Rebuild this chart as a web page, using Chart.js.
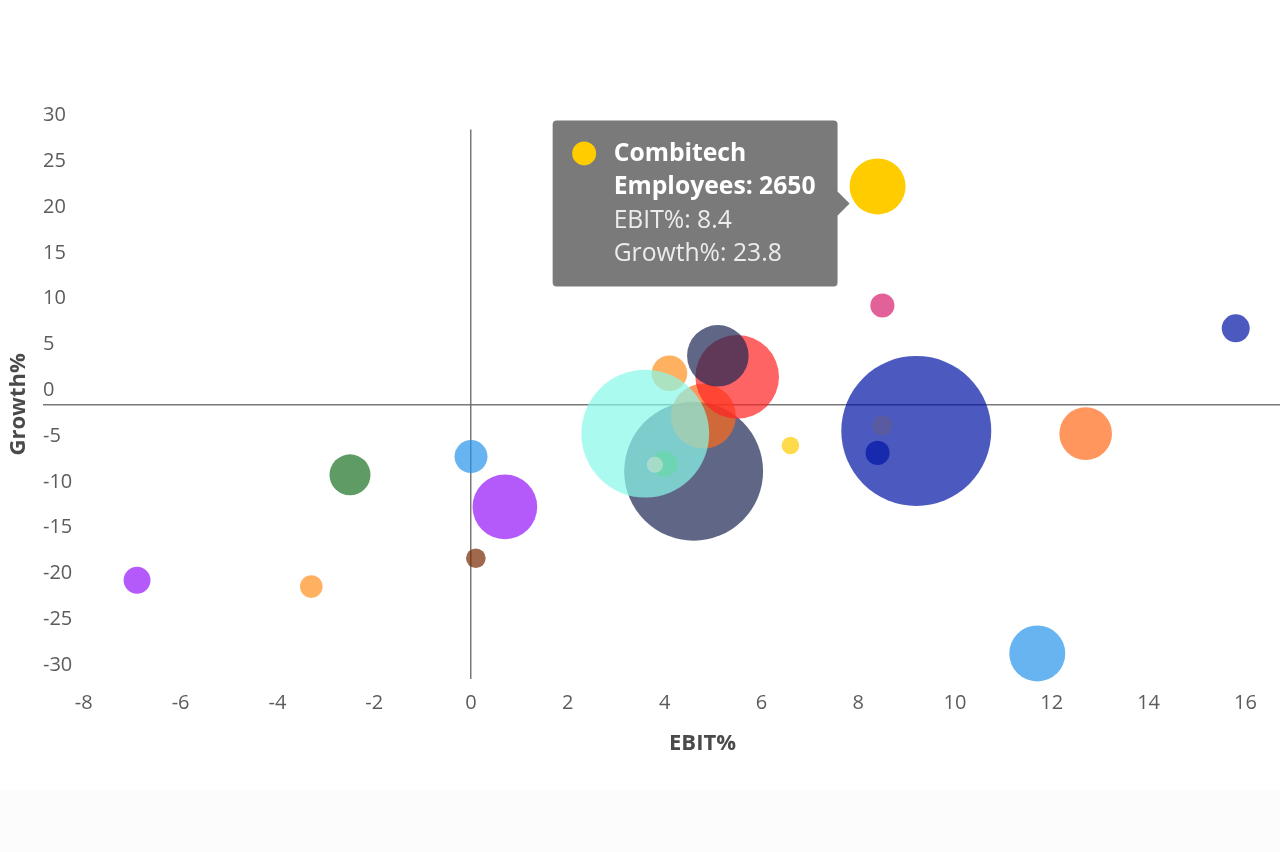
<!DOCTYPE html>
<html>
<head>
<meta charset="utf-8">
<script src="https://cdn.jsdelivr.net/npm/chart.js@4.4.1/dist/chart.umd.min.js"></script>
<style>
  html, body { margin: 0; padding: 0; width: 1280px; height: 852px; overflow: hidden; background: #ffffff; }
  #band { position: absolute; left: 0; top: 790px; width: 1280px; height: 62px; background: #fcfcfc; }
  #wrap { position: absolute; left: 0; top: 0; width: 1362px; height: 852px; }
</style>
</head>
<body>
<div id="band"></div>
<div id="wrap"><canvas id="c" width="1362" height="852"></canvas></div>
<script>
// ---- data (drawing order: first drawn at the bottom) ----
const companies = [
  'Company 1', 'Company 2', 'Company 3', 'Company 4', 'Company 5', 'Company 6',
  'Company 7', 'Company 8', 'Company 9', 'Company 10', 'Company 11', 'Company 12',
  'Company 13', 'Combitech', 'Company 15', 'Company 16', 'Company 17', 'Company 18',
  'Company 19', 'Company 20', 'Company 21', 'Company 22', 'Company 23'
];
const ebit = [
  4.6, 4.8, 4.1, 3.6, 4.0, 3.8,
  5.5, 5.1, 6.6, 9.2, 8.5, 8.4,
  8.5, 8.4, 15.8, 12.7, 11.7, 0.0,
  -2.5, 0.7, 0.1, -6.9, -3.3
];
const growth = [
  -7.3, -1.3, 3.4, -3.2, -6.5, -6.6,
  3.0, 5.3, -4.5, -2.9, -2.3, -5.3,
  10.8, 23.8, 8.3, -3.2, -27.2, -5.7,
  -7.7, -11.2, -16.8, -19.2, -19.9
];
const employees = [
  16300, 3570, 1070, 13800, 570, 220,
  5900, 3200, 260, 19000, 340, 490,
  490, 2650, 660, 2340, 2650, 920,
  1420, 3530, 325, 610, 430
];
const xTicks = [-8, -6, -4, -2, 0, 2, 4, 6, 8, 10, 12, 14, 16];
const yTicks = [-30, -25, -20, -15, -10, -5, 0, 5, 10, 15, 20, 25, 30];
const highlighted = 'Combitech';

// ---- styles ----
const bubbleColors = [
  'rgba(28,39,82,0.7)', 'rgba(255,105,25,0.7)', 'rgba(255,142,28,0.7)', 'rgba(135,248,234,0.7)',
  'rgba(104,217,169,0.7)', 'rgba(190,224,205,0.7)', 'rgba(255,34,34,0.7)', 'rgba(28,39,82,0.7)',
  'rgba(255,204,0,0.7)', 'rgba(0,20,165,0.7)', 'rgba(94,90,146,0.7)', 'rgba(0,20,165,0.7)',
  'rgba(214,30,110,0.7)', '#FFCC00', 'rgba(0,20,165,0.7)', 'rgba(255,105,25,0.7)',
  'rgba(40,148,234,0.7)', 'rgba(40,148,234,0.7)', 'rgba(27,112,34,0.7)', 'rgba(148,20,248,0.7)',
  'rgba(120,40,0,0.7)', 'rgba(148,20,248,0.7)', 'rgba(255,142,28,0.7)'
];
const radiusPerSqrtEmployee = 0.544;
const zeroLineColor = 'rgba(105,105,105,0.9)';

function build() {
  Chart.defaults.font.family = "'Open Sans', sans-serif";

  const tooltipPlugin = Chart.Tooltip || Chart.registry.plugins.get('tooltip');
  tooltipPlugin.positioners.besideBubble = function(items) {
    if (!items.length) return false;
    const el = items[0].element;
    return { x: el.x, y: el.y + 17 };
  };

  const tooltipDot = {
    id: 'tooltipDot',
    afterTooltipDraw(chart, args) {
      const tt = args.tooltip;
      if (!tt.opacity || !tt.dataPoints || !tt.dataPoints.length) return;
      const i = tt.dataPoints[0].dataIndex;
      const ctx = chart.ctx;
      ctx.save();
      ctx.globalAlpha = tt.opacity;
      ctx.fillStyle = bubbleColors[i];
      ctx.beginPath();
      ctx.arc(tt.x + 31.5, tt.y + 33, 12, 0, Math.PI * 2);
      ctx.fill();
      ctx.restore();
    }
  };

  const zeroOnly = c => (c.tick && c.tick.value === 0) ? zeroLineColor : 'rgba(0,0,0,0)';

  const chart = new Chart(document.getElementById('c'), {
    type: 'bubble',
    data: {
      datasets: [{
        label: 'Companies',
        data: ebit.map((x, i) => ({ x: x, y: growth[i], r: radiusPerSqrtEmployee * Math.sqrt(employees[i]) })),
        backgroundColor: bubbleColors,
        borderWidth: 0,
        hoverBorderWidth: 0,
        hoverRadius: 0,
        clip: false
      }]
    },
    options: {
      responsive: false,
      animation: false,
      events: [],
      layout: { autoPadding: false, padding: { top: 129.6, left: 5.8, right: 0, bottom: 94.8 } },
      scales: {
        x: {
          type: 'linear',
          min: -8.843,
          max: 18.409,
          afterBuildTicks: s => { s.ticks = xTicks.map(v => ({ value: v })); },
          afterFit: s => { s.paddingLeft = 0; s.paddingRight = 0; },
          grid: { drawTicks: false, color: zeroOnly, lineWidth: 1.5 },
          border: { display: false },
          ticks: { padding: 12.6, color: '#5c5c5c', font: { size: 20 }, callback: v => String(v) },
          title: { display: true, text: 'EBIT%', color: '#4a4a4a', font: { size: 22, weight: 'bold' }, padding: { top: 2.5, bottom: 0 } }
        },
        y: {
          type: 'linear',
          min: -30,
          max: 30,
          afterBuildTicks: s => { s.ticks = yTicks.map(v => ({ value: v })); },
          afterFit: s => { s.width = 37.2; s.paddingLeft = 0; s.paddingRight = 0; },
          grid: { drawTicks: false, color: zeroOnly, lineWidth: 1.5 },
          border: { display: false },
          ticks: { mirror: true, padding: 0, labelOffset: -14, color: '#5c5c5c', font: { size: 20 }, callback: v => String(v) },
          title: { display: true, text: 'Growth%', color: '#4a4a4a', font: { size: 22, weight: 'bold' }, padding: { top: 0, bottom: 10.8 } }
        }
      },
      plugins: {
        legend: { display: false },
        tooltip: {
          enabled: true,
          position: 'besideBubble',
          xAlign: 'right',
          yAlign: 'center',
          backgroundColor: '#7a7a7a',
          cornerRadius: 4,
          caretSize: 12,
          caretPadding: 28,
          padding: { top: 17.5, right: 22, bottom: 15.5, left: 61 },
          displayColors: false,
          titleColor: '#ffffff',
          titleFont: { size: 24.7, weight: 'bold', lineHeight: 1.336 },
          titleSpacing: 0,
          titleMarginBottom: 1,
          bodyColor: '#ececec',
          bodyFont: { size: 24.7, weight: 'normal', lineHeight: 1.336 },
          bodySpacing: 0,
          animation: false,
          callbacks: {
            title: items => [companies[items[0].dataIndex], 'Employees: ' + employees[items[0].dataIndex]],
            label: item => 'EBIT%: ' + ebit[item.dataIndex],
            afterLabel: item => 'Growth%: ' + growth[item.dataIndex]
          }
        }
      }
    },
    plugins: [tooltipDot]
  });

  const hi = companies.indexOf(highlighted);
  chart.tooltip.setActiveElements([{ datasetIndex: 0, index: hi }], { x: 0, y: 0 });
  chart.update();
}

const fontLoads = [
  '20px "Open Sans"', 'bold 22px "Open Sans"', 'bold 24.7px "Open Sans"', '24.7px "Open Sans"'
].map(f => document.fonts.load(f).catch(() => null));
let built = false;
const go = () => { if (!built) { built = true; build(); } };
Promise.all(fontLoads).then(go, go);
setTimeout(go, 1500);
</script>
</body>
</html>
